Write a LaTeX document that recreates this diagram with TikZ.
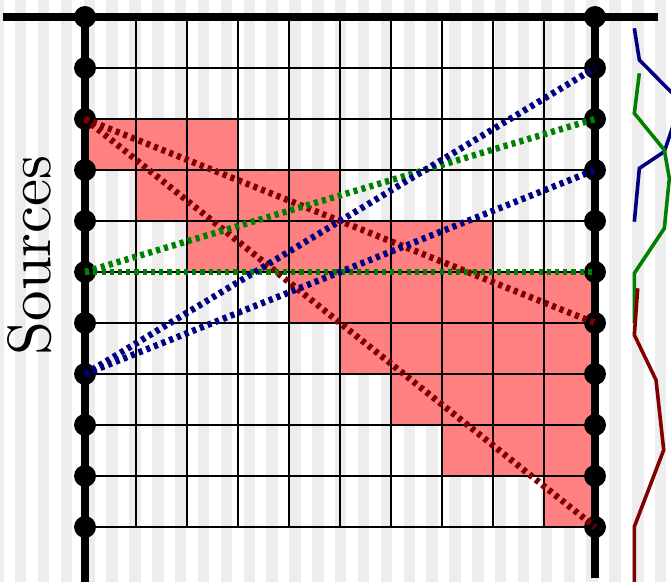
\documentclass[tikz,border=0pt]{standalone}
\usetikzlibrary{positioning}

\begin{document}
\begin{tikzpicture}[
  stripe/.style={fill=black!7},
  cell/.style={fill=red!50},
  gridline/.style={draw=black, line width=0.8pt},
  axis/.style={draw=black, line width=4.8pt},
  src/.style={circle, fill=black, inner sep=0pt, minimum size=0.43cm},
  path/.style={line width=3.6pt, dash pattern=on 2.3pt off 2.3pt},
  trace/.style={line width=2pt, line join=miter}
]
\useasboundingbox (-1.667,-1.078) rectangle (11.49,10.333);

% background stripes
\begin{scope}
\clip (-1.667,-1.078) rectangle (11.49,10.333);
\foreach \k in {-1,...,28}
  \fill[stripe] ({-1.373+0.4482*\k},-1.2) rectangle ++(0.2241,11.6);
\end{scope}

% occupied cells
\fill[cell] (0,7) rectangle (3,8);
\fill[cell] (1,6) rectangle (5,7);
\fill[cell] (2,5) rectangle (8,6);
\fill[cell] (4,4) rectangle (10,5);
\fill[cell] (5,3) rectangle (10,4);
\fill[cell] (6,2) rectangle (10,3);
\fill[cell] (7,1) rectangle (10,2);
\fill[cell] (9,0) rectangle (10,1);

\draw[gridline] (0,0) grid (10,10);
\draw[black, line width=1.2pt] (7,1) rectangle (8,2);

% sensor arrays
\draw[axis] (-1.608,10) -- (11.235,10);
\draw[axis] (0,10) -- (0,-1.2);
\draw[axis] (10,10) -- (10,-1.0);
\foreach \i in {0,...,10} {
  \node[src] (l\i) at (0,\i) {};
  \node[src] (r\i) at (10,\i) {};
}

% ray paths
\draw[path, red!50!black] (l8.center) -- (r4.center);
\draw[path, red!50!black] (l8.center) -- (r0.center);
\draw[path, green!50!black] (l5.center) -- (r8.center);
\draw[path, green!50!black] (l5.center) -- (r5.center);
\draw[path, blue!50!black] (l3.center) -- (r9.center);
\draw[path, blue!50!black] (l3.center) -- (r7.center);

% recorded traces
\begin{scope}
\clip (-1.667,-1.078) rectangle (11.49,10.333);
\draw[trace, blue!50!black] (10.771,9.778) -- (10.869,9.157) -- (11.686,8.333)
  -- (11.359,7.359) -- (10.869,7.033) -- (10.771,5.986);
\draw[trace, green!50!black] (10.869,8.896) -- (10.771,8.112) -- (11.359,7.392)
  -- (11.457,6.837) -- (11.359,5.857) -- (10.771,4.975) -- (10.771,3.994);
\draw[trace, red!50!black] (10.837,4.680) -- (10.771,3.765) -- (11.196,2.882)
  -- (11.347,1.510) -- (10.771,0.006) -- (10.771,-1.3);
\end{scope}

\node[rotate=90, font=\normalsize] (srclabel) at (-1.078,5.33) {\scalebox{3.4}{Sources}};
\end{tikzpicture}
\end{document}
